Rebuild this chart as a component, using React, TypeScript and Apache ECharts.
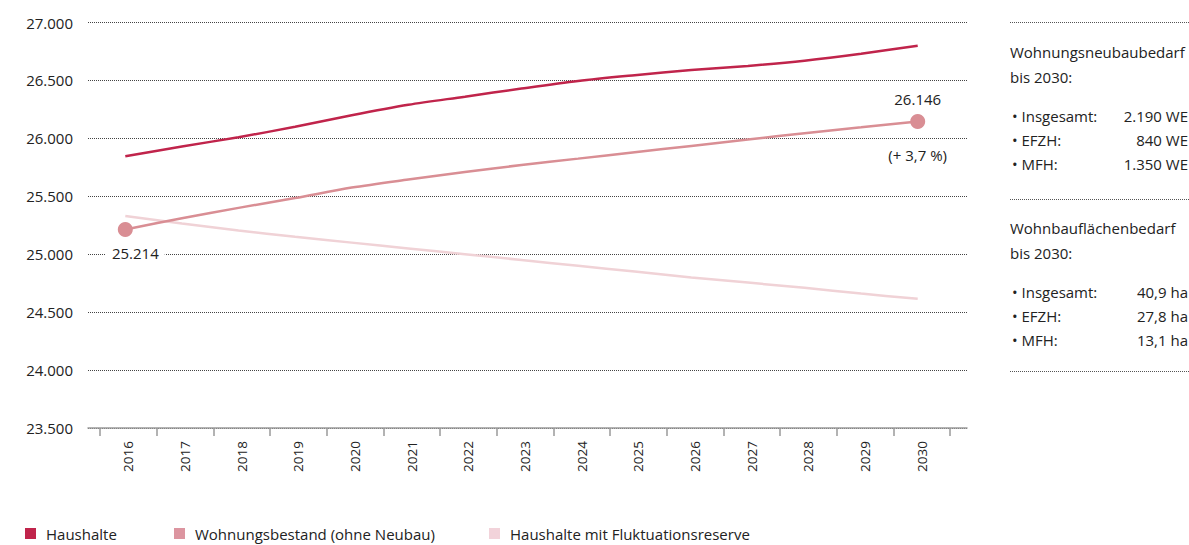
import React, { useEffect, useRef } from "react";
import * as echarts from "echarts";

const years = ["2016", "2017", "2018", "2019", "2020", "2021", "2022", "2023", "2024", "2025", "2026", "2027", "2028", "2029", "2030"];
const haushalte = [25845, 25930, 26010, 26100, 26200, 26290, 26360, 26430, 26495, 26545, 26590, 26625, 26670, 26730, 26800];
const bestand = [25214, 25310, 25400, 25485, 25575, 25645, 25710, 25770, 25825, 25880, 25935, 25990, 26045, 26095, 26146];
const fluktuation = [25330, 25265, 25205, 25150, 25100, 25050, 25000, 24950, 24900, 24850, 24800, 24755, 24710, 24660, 24615];
const seriesNames = ["Haushalte", "Wohnungsbestand (ohne Neubau)", "Haushalte mit Fluktuationsreserve"];
const colors = ["#c0244b", "#d98e94", "#f0d2d6"];
const legendColors = ["#c0244b", "#dc95a0", "#f2d3da"];
const growthLabel = "(+ 3,7 %)";

const panel1Title = ["Wohnungsneubaubedarf", "bis 2030:"];
const panel1Rows = [["Insgesamt:", "2.190 WE"], ["EFZH:", "840 WE"], ["MFH:", "1.350 WE"]];
const panel2Title = ["Wohnbauflächenbedarf", "bis 2030:"];
const panel2Rows = [["Insgesamt:", "40,9 ha"], ["EFZH:", "27,8 ha"], ["MFH:", "13,1 ha"]];

const FONT = "'Open Sans', Roboto, sans-serif";
const TXT = "#222222";

function fmt(v: number) {
  return Math.round(v).toString().replace(/\B(?=(\d{3})+(?!\d))/g, ".");
}

export default function App() {
  const ref = useRef<HTMLDivElement>(null);
  useEffect(() => {
    if (!ref.current) return;
    const chart = echarts.init(ref.current, null, { renderer: "svg" });
    const last = years.length - 1;

    const bestandData = bestand.map((v, i) => {
      if (i === 0) {
        return {
          value: v,
          symbol: "circle",
          symbolSize: 15,
          label: {
            show: true,
            position: "bottom",
            offset: [10, 2],
            formatter: fmt(v),
            backgroundColor: "#fff",
            padding: [2, 6],
            color: TXT,
            fontSize: 15,
            fontFamily: FONT,
          },
        };
      }
      if (i === last) {
        return {
          value: v,
          symbol: "circle",
          symbolSize: 15,
          label: {
            show: true,
            position: "top",
            distance: 7,
            formatter: fmt(v),
            color: TXT,
            fontSize: 15,
            fontFamily: FONT,
          },
        };
      }
      return { value: v, symbol: "none" };
    });

    const panelGraphics: any[] = [];
    const addPanel = (title: string[], rows: string[][], top: number) => {
      title.forEach((t, i) => {
        panelGraphics.push({
          type: "text",
          x: 1010,
          y: top + i * 25,
          style: { text: t, fill: TXT, font: `15px ${FONT}`, verticalAlign: "middle" },
        });
      });
      rows.forEach((r, i) => {
        const y = top + 64 + i * 24;
        panelGraphics.push({
          type: "text",
          x: 1012,
          y,
          style: { text: "• " + r[0], fill: TXT, font: `15px ${FONT}`, verticalAlign: "middle" },
        });
        panelGraphics.push({
          type: "text",
          x: 1188,
          y,
          style: { text: r[1], fill: TXT, font: `15px ${FONT}`, align: "right", verticalAlign: "middle" },
        });
      });
    };
    addPanel(panel1Title, panel1Rows, 52);
    addPanel(panel2Title, panel2Rows, 228);
    [22.5, 199.5, 371.5].forEach((y) => {
      panelGraphics.push({
        type: "line",
        shape: { x1: 1010, y1: y, x2: 1189, y2: y },
        style: { stroke: "#555", lineWidth: 1, lineDash: [1, 1] },
      });
    });

    const legendItem = (name: string, left: number, color: string) => ({
      left,
      top: 526,
      padding: 0,
      data: [{ name, icon: "rect", itemStyle: { color } }],
      itemWidth: 11,
      itemHeight: 11,
      itemGap: 0,
      textStyle: { color: TXT, fontSize: 15, fontFamily: FONT, padding: [0, 0, 0, 5] },
    });

    chart.setOption({
      animation: false,
      color: colors,
      textStyle: { fontFamily: FONT },
      grid: [
        { left: 88, right: 222, top: 22.5, bottom: 117 },
        { left: 100, right: 239, top: 22.5, bottom: 117 },
        { left: 97, right: 243, top: 22.5, bottom: 117 },
      ],
      legend: [
        legendItem(seriesNames[0], 25, legendColors[0]),
        legendItem(seriesNames[1], 174, legendColors[1]),
        legendItem(seriesNames[2], 489, legendColors[2]),
      ],
      xAxis: [
        {
          gridIndex: 0,
          type: "value",
          min: 0,
          max: 1,
          axisLine: { show: true, onZero: false, lineStyle: { color: "#9a9a9a", width: 1.5 } },
          axisTick: { show: false },
          axisLabel: { show: false },
          splitLine: { show: false },
        },
        {
          gridIndex: 1,
          type: "category",
          data: years,
          boundaryGap: true,
          axisLine: { show: false },
          axisTick: { show: true, length: 8, lineStyle: { color: "#9a9a9a", width: 1.5 } },
          axisLabel: { rotate: 90, margin: 13, color: TXT, fontSize: 13.5, fontFamily: FONT },
        },
        {
          gridIndex: 2,
          type: "category",
          data: years,
          boundaryGap: true,
          show: false,
        },
      ],
      yAxis: [
        {
          gridIndex: 0,
          type: "value",
          min: 23500,
          max: 27000,
          interval: 500,
          axisLine: { show: false },
          axisTick: { show: false },
          axisLabel: { margin: 15, color: TXT, fontSize: 15, fontFamily: FONT, formatter: (v: number) => fmt(v) },
          splitLine: { show: true, lineStyle: { color: "#444", type: [1, 1], width: 1 } },
        },
        {
          gridIndex: 1,
          type: "value",
          min: 23500,
          max: 27000,
          interval: 500,
          show: false,
          splitLine: { show: false },
        },
        {
          gridIndex: 2,
          type: "value",
          min: 23500,
          max: 27000,
          interval: 500,
          show: false,
          splitLine: { show: false },
        },
      ],
      graphic: panelGraphics,
      series: [
        {
          name: seriesNames[0],
          type: "line",
          xAxisIndex: 2,
          yAxisIndex: 2,
          data: haushalte,
          smooth: 0.3,
          symbol: "none",
          itemStyle: { color: colors[0] },
          lineStyle: { color: colors[0], width: 2.5 },
          z: 4,
        },
        {
          name: seriesNames[1],
          type: "line",
          xAxisIndex: 2,
          yAxisIndex: 2,
          data: bestandData,
          smooth: 0.3,
          symbol: "none",
          showSymbol: true,
          itemStyle: { color: colors[1] },
          lineStyle: { color: colors[1], width: 2.5 },
          z: 3,
          markPoint: {
            symbol: "circle",
            symbolSize: 0,
            data: [
              {
                coord: [years[last], bestand[last]],
                label: {
                  show: true,
                  position: "bottom",
                  distance: 26,
                  formatter: growthLabel,
                  color: TXT,
                  fontSize: 15,
                  fontFamily: FONT,
                },
              },
            ],
          },
        },
        {
          name: seriesNames[2],
          type: "line",
          xAxisIndex: 2,
          yAxisIndex: 2,
          data: fluktuation,
          smooth: 0.3,
          symbol: "none",
          itemStyle: { color: colors[2] },
          lineStyle: { color: colors[2], width: 2.5 },
          z: 2,
        },
      ],
    });
    return () => chart.dispose();
  }, []);
  return <div ref={ref} style={{ position: "absolute", left: 0, top: 0, width: 1189, height: 545 }} />;
}
